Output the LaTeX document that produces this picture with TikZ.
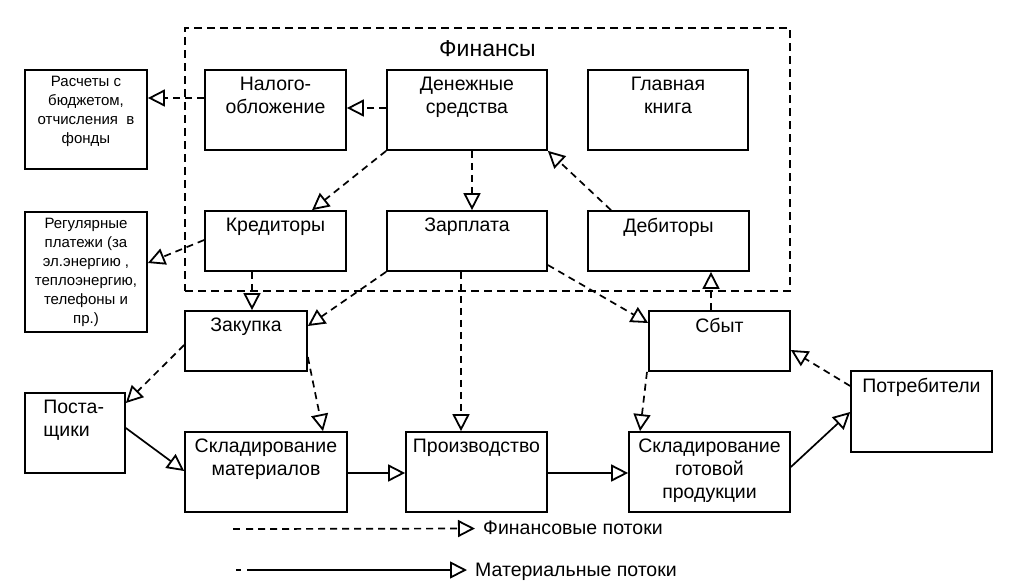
\documentclass[tikz,border=0pt]{standalone}
\usepackage{fontspec}
\setmainfont{Liberation Sans}
\usetikzlibrary{arrows.meta}
\begin{document}
\begin{tikzpicture}[x=1pt,y=-1pt,
  box/.style={draw, line width=1.7pt, inner sep=0pt},
  big/.style={anchor=north, yshift=-8pt, inner sep=0pt, align=center, font=\fontsize{19.5}{23}\selectfont},
  small/.style={anchor=north, yshift=-6.5pt, inner sep=0pt, align=center, font=\fontsize{15}{19}\selectfont},
  tip/.style={-{Triangle[open, length=17pt, width=17pt, line width=1.8pt]}},
  fin/.style={tip, line width=1.7pt, dash pattern=on 7pt off 5pt},
  mat/.style={tip, line width=1.7pt},
  leg/.style={anchor=base west, inner sep=0pt, font=\fontsize{19.5}{23}\selectfont}
]
\useasboundingbox (0,0) rectangle (1036,582);
\fill[white] (0,0) rectangle (1036,582);

% Finance frame
\node[draw, line width=1.6pt, dash pattern=on 8pt off 5pt, minimum width=605pt, minimum height=263pt, inner sep=0pt] (finbox) at (487.5,159.5) {};
\node[anchor=base, inner sep=0pt, font=\fontsize{23}{27}\selectfont] (finlbl) at (487.5,56) {Финансы};

% Boxes
\node[box, minimum width=141pt, minimum height=80pt, label={[big]north:{Налого-\\обложение}}] (nal) at (275.5,110) {};
\node[box, minimum width=160pt, minimum height=80pt, label={[big]north:{Денежные\\средства}}] (den) at (467,110) {};
\node[box, minimum width=160pt, minimum height=80pt, label={[big]north:{Главная\\книга}}] (glav) at (668,110) {};
\node[box, minimum width=141pt, minimum height=60pt, label={[big]north:{Кредиторы}}] (kred) at (275.5,241) {};
\node[box, minimum width=160pt, minimum height=60pt, label={[big]north:{Зарплата}}] (zarp) at (467,241) {};
\node[box, minimum width=161pt, minimum height=60pt, label={[big]north:{Дебиторы}}] (deb) at (668.5,241) {};
\node[box, minimum width=122pt, minimum height=99pt, label={[small]north:{Расчеты с\\бюджетом,\\отчисления~~в\\фонды}}] (rasch) at (86,119.5) {};
\node[box, minimum width=122pt, minimum height=120pt, label={[small]north:{Регулярные\\платежи (за\\эл.энергию ,\\теплоэнергию,\\телефоны и\\пр.)}}] (reg) at (86,272) {};
\node[box, minimum width=122pt, minimum height=60pt, label={[big]north:{Закупка}}] (zak) at (246,341) {};
\node[box, minimum width=100pt, minimum height=80pt, label={[big, anchor=north west, align=left, xshift=19pt]north west:{Поста-\\щики}}] (post) at (75,433) {};
\node[box, minimum width=162pt, minimum height=80pt, label={[big]north:{Складирование\\материалов}}] (sklm) at (266,472) {};
\node[box, minimum width=141pt, minimum height=80pt, label={[big]north:{Производство}}] (proizv) at (476.5,472) {};
\node[box, minimum width=161pt, minimum height=80pt, label={[big]north:{Складирование\\готовой\\продукции}}] (sklg) at (709.5,472) {};
\node[box, minimum width=141pt, minimum height=60pt, label={[big]north:{Сбыт}}] (sbyt) at (719.5,341) {};
\node[box, minimum width=141pt, minimum height=81pt, label={[big]north:{Потребители}}] (potr) at (921.5,411.5) {};

% Financial flows (dashed)
\draw[fin] (den.west |- 0,108) -- (nal.east |- 0,108);
\draw[fin] (nal.west |- 0,98) -- (rasch.east |- 0,98);
\draw[fin] (den.south west) -- (312,0 |- kred.north);
\draw[fin] (den.south -| 472,0) -- (zarp.north -| 472,0);
\draw[fin] (deb.north -| 611,0) -- (den.south east);
\draw[fin] (kred.west |- 0,240) -- (reg.east |- 0,263);
\draw[fin] (kred.south -| 252,0) -- (zak.north -| 252,0);
\draw[fin] (zarp.south west) -- (zak.east |- 0,326);
\draw[fin] (zarp.south -| 461,0) -- (proizv.north -| 461,0);
\draw[fin] (zarp.east |- 0,265) -- (sbyt.west |- 0,323);
\draw[fin] (sbyt.north -| 711,0) -- (deb.south -| 711,0);
\draw[fin] (potr.west |- 0,386) -- (sbyt.east |- 0,350);
\draw[fin] (sbyt.south -| 647,0) -- (sklg.north -| 640,0);
\draw[fin] (zak.west |- 0,345) -- (post.east |- 0,403);
\draw[fin] (zak.east |- 0,357) -- (sklm.north -| 323,0);

% Material flows (solid)
\draw[mat] (post.east |- 0,428) -- (sklm.west |- 0,471);
\draw[mat] (sklm.east |- 0,473) -- (proizv.west |- 0,473);
\draw[mat] (proizv.east |- 0,473) -- (sklg.west |- 0,473);
\draw[mat] (sklg.east |- 0,467) -- (potr.west |- 0,412);

% Legend
\coordinate (fa) at (233,529);
\coordinate (fb) at (240,529);
\coordinate (fc) at (246,529);
\coordinate (fd) at (475,528.5);
\draw[line width=1.5pt] (fa) -- (fb);
\draw[fin] (fc) -- (fd);
\node[leg] (fleg) at (483,534) {Финансовые потоки};
\coordinate (ma) at (236,570);
\coordinate (mb) at (241,570);
\coordinate (mc) at (247,570);
\coordinate (md) at (467,570);
\draw[line width=1.5pt] (ma) -- (mb);
\draw[mat] (mc) -- (md);
\node[leg] (mleg) at (475,576) {Материальные потоки};
\end{tikzpicture}
\end{document}
